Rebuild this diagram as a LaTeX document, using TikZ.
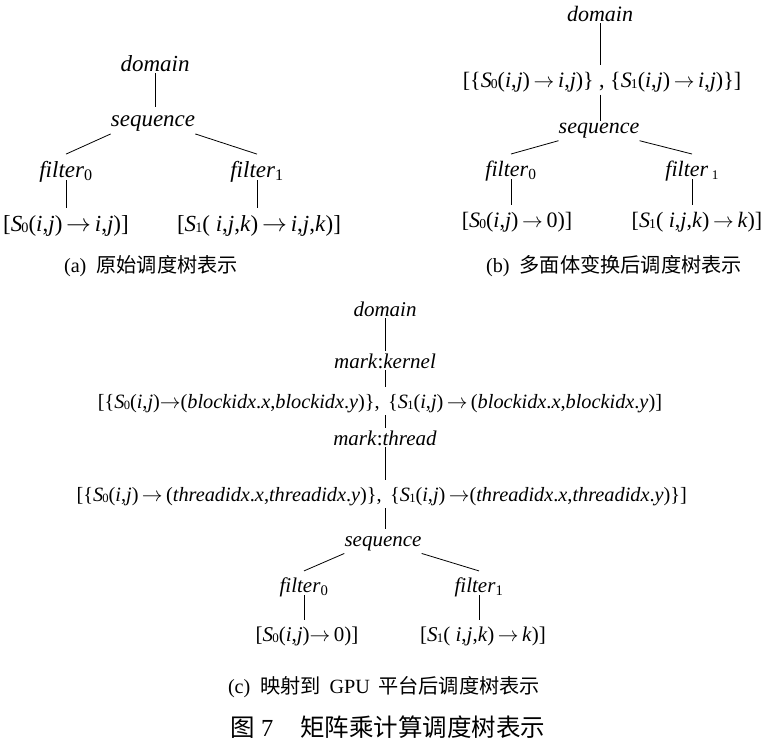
\documentclass[tikz,border=0pt]{standalone}
\usepackage{fontspec}
\usepackage{graphicx}
\setmainfont{Liberation Serif}
\newfontfamily\cjk{Noto Sans CJK SC}

% statement name with a small index: S0, S1
\newcommand\Sn[1]{\textit{S}\kern-0.04em\raisebox{-0.08em}{\scalebox{0.62}{#1}}}
% filter with a subscript index
\newcommand\fil[1]{\textit{filter}\textsubscript{#1}}
\newcommand\ito{\,$\rightarrow$\,}
\newcommand\iv[1]{\textit{#1}}

% box heights are given per tree through \hx (x-height words), \hw (words),
% \hb (bracketed rows) and \dq (descender depth)
\tikzset{
  word/.style={inner xsep=0pt, inner ysep=2pt, text height=\hw, text depth=0pt, anchor=base},
  seqw/.style={word, text height=\hx, text depth=\dq},
  filw/.style={word, text height=\hb, text depth=1pt},
  leaf/.style={word, text height=\hb, text depth=\dq},
  edge/.style={line width=0.8pt},
  subcap/.style={inner sep=0pt, anchor=center, font=\fontsize{20.2}{24}\selectfont},
}

\begin{document}
\begin{tikzpicture}[x=1pt, y=-1pt]
\useasboundingbox (0,0) rectangle (762,750);

% ---------- (a) original schedule tree ----------
\begin{scope}[every node/.append style={font=\fontsize{23}{27}\selectfont}]
\def\hx{16.6pt}\def\hw{16.6pt}\def\hb{20.7pt}\def\dq{5.75pt}
\node[word] (ad) at (155,71) {\iv{domain}};
\node[seqw] (as) at (153,126) {\iv{sequence}};
\node[filw] (af0) at (66,177) {\fil{0}};
\node[filw] (af1) at (257,177) {\fil{1}};
\node[leaf] (al0) at (66,231) {[\Sn0(\iv{i},\iv{j})\ito\iv{i},\iv{j})]};
\node[leaf] (al1) at (259,231) {[\Sn1( \iv{i},\iv{j},\iv{k})\ito\iv{i},\iv{j},\iv{k})]};
\draw[edge] (ad.south) -- (ad.south |- as.north);
\draw[edge] (as.south west) -- (af0.north);
\draw[edge] (as.south east) -- (af1.north);
\draw[edge] (af0.south) -- (af0.south |- al0.north);
\draw[edge] (af1.south) -- (af1.south |- al1.north);
\end{scope}
\node[subcap] (capa) at (151,266) {(a)\ \ {\cjk 原始调度树表示}};

% ---------- (b) after polyhedral transformation ----------
\begin{scope}[every node/.append style={font=\fontsize{22}{26}\selectfont}]
\def\hx{10pt}\def\hw{15.8pt}\def\hb{19.8pt}\def\dq{5.5pt}
\node[word] (bd) at (600,21) {\iv{domain}};
\node[leaf] (bm) at (602,87) {[\{\Sn0(\iv{i},\iv{j})\ito\iv{i},\iv{j})\} , \{\Sn1(\iv{i},\iv{j})\ito\iv{i},\iv{j})\}]};
\node[seqw] (bs) at (599,133) {\iv{sequence}};
\node[filw] (bf0) at (511,176) {\fil{0}};
\node[filw] (bf1) at (692,176) {\iv{filter}\,\raisebox{-0.15em}{\scalebox{0.6}{1}}};
\node[leaf] (bl0) at (517,227) {[\Sn0(\iv{i},\iv{j})\ito 0)]};
\node[leaf] (bl1) at (697,227) {[\Sn1( \iv{i},\iv{j},\iv{k})\ito\iv{k})]};
\draw[edge] (bd.south) -- (bd.south |- bm.north);
\draw[edge] (bd.south |- bm.south) -- (bd.south |- bs.north);
\draw[edge] (bs.south west) -- (bf0.north);
\draw[edge] (bs.south east) -- (bf1.north);
\draw[edge] (bf0.south) -- (bf0.south |- bl0.north);
\draw[edge] (bf1.south) -- (bf1.south |- bl1.north);
\end{scope}
\node[subcap] (capb) at (614,266) {(b)\ \ {\cjk 多面体变换后调度树表示}};

% ---------- (c) after mapping to the GPU ----------
\begin{scope}[every node/.append style={font=\fontsize{21}{25}\selectfont}]
\def\hx{15.1pt}\def\hw{15.1pt}\def\hb{18.9pt}\def\dq{5.25pt}
\node[word] (cd) at (385,316) {\iv{domain}};
\node[word] (ck) at (385,368) {\iv{mark}:\iv{kernel}};
% mapping rows: left half ends at the comma, right half starts after the connector
\begin{scope}[every node/.append style={font=\fontsize{20.3}{24}\selectfont}]
\node[leaf, anchor=base east] (cbl) at (380,408) {[\{\Sn0(\iv{i},\iv{j})$\rightarrow$(\iv{blockidx}.\iv{x},\iv{blockidx}.\iv{y})\},};
\node[leaf, anchor=base west] (cbr) at (388,408) {\{\Sn1(\iv{i},\iv{j})\ito(\iv{blockidx}.\iv{x},\iv{blockidx}.\iv{y})]};
\node[leaf, anchor=base east] (crl) at (382,501) {[\{\Sn0(\iv{i},\iv{j})\ito(\iv{threadidx}.\iv{x},\iv{threadidx}.\iv{y})\},};
\node[leaf, anchor=base west] (crr) at (390,501) {\{\Sn1(\iv{i},\iv{j})\,$\rightarrow$(\iv{threadidx}.\iv{x},\iv{threadidx}.\iv{y})\}]};
\end{scope}
\node[word] (ct) at (385,445) {\iv{mark}:\iv{thread}};
\node[seqw] (cs) at (383,546) {\iv{sequence}};
\node[filw] (cf0) at (304,592) {\fil{0}};
\node[filw] (cf1) at (479,592) {\fil{1}};
\node[leaf] (cl0) at (307,641) {[\Sn0(\iv{i},\iv{j})$\rightarrow$\,0)]};
\node[leaf] (cl1) at (483,641) {[\Sn1( \iv{i},\iv{j},\iv{k})\ito\iv{k})]};
\draw[edge] (cd.south) -- (cd.south |- ck.north);
\draw[edge] (ck.south) -- (ck.south |- cbl.north);
\draw[edge] (ck.south |- cbl.south) -- (ck.south |- ct.north);
\draw[edge] (ct.south) -- (ct.south |- crl.north);
\draw[edge] (ct.south |- crl.south) -- (ct.south |- cs.north);
\draw[edge] (cs.south west) -- (cf0.north);
\draw[edge] (cs.south east) -- (cf1.north);
\draw[edge] (cf0.south) -- (cf0.south |- cl0.north);
\draw[edge] (cf1.south) -- (cf1.south |- cl1.north);
\end{scope}
\node[subcap] (capc) at (384,687) {(c)\ \ {\cjk 映射到}\ \,GPU\ \,{\cjk 平台后调度树表示}};

% figure caption
\node[inner sep=0pt, anchor=center, font=\fontsize{24.5}{29}\selectfont] (fig) at (388,727)
  {{\cjk 图} 7\hspace{1.1em}{\cjk 矩阵乘计算调度树表示}};
\end{tikzpicture}
\end{document}
